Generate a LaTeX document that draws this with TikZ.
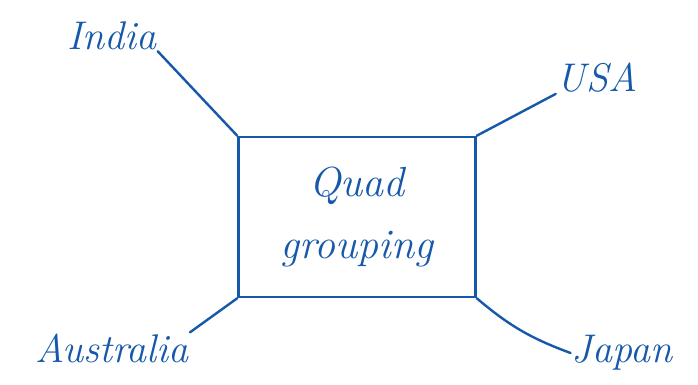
\documentclass[tikz,border=0pt]{standalone}
\usepackage{xcolor}
\usepackage{tikz}
\usetikzlibrary{
    positioning,
    calc
}
\definecolor{inkblue}{RGB}{22,88,170}
\tikzset{
    country/.style={
        text=inkblue,
        inner sep=1pt,
        font=\fontsize{40}{44}\selectfont\itshape
    }
}
\tikzset{
    grouping/.style={
        draw=inkblue,
        line width=2.6pt,
        minimum width=237pt,
        minimum height=160pt,
        align=center,
        text=inkblue,
        font=\fontsize{42}{62}\selectfont\itshape
    }
}
\tikzset{
    tie/.style={
        draw=inkblue,
        line width=2.4pt,
        line cap=round
    }
}

\begin{document}
\begin{tikzpicture}[
    x=1pt,
    y=-1pt
]

\useasboundingbox (0,0) rectangle (698,385);

\node[grouping] (quad) at (357,217)
    {Quad\\grouping};

\node[country] (india) at (112,36) {India};
\node[country] (usa) at (597,78) {USA};
\node[country] (australia) at (112,348) {Australia};
\node[country] (japan) at (622,353) {Japan};

\draw[tie] (india.south east) -- (quad.north west);
\draw[tie] (quad.north east) -- (usa.south west);
\draw[tie] (australia.north east) -- (quad.south west);
\draw[tie] (quad.south east) to[bend right=10] (japan.west);

\end{tikzpicture}
\end{document}
